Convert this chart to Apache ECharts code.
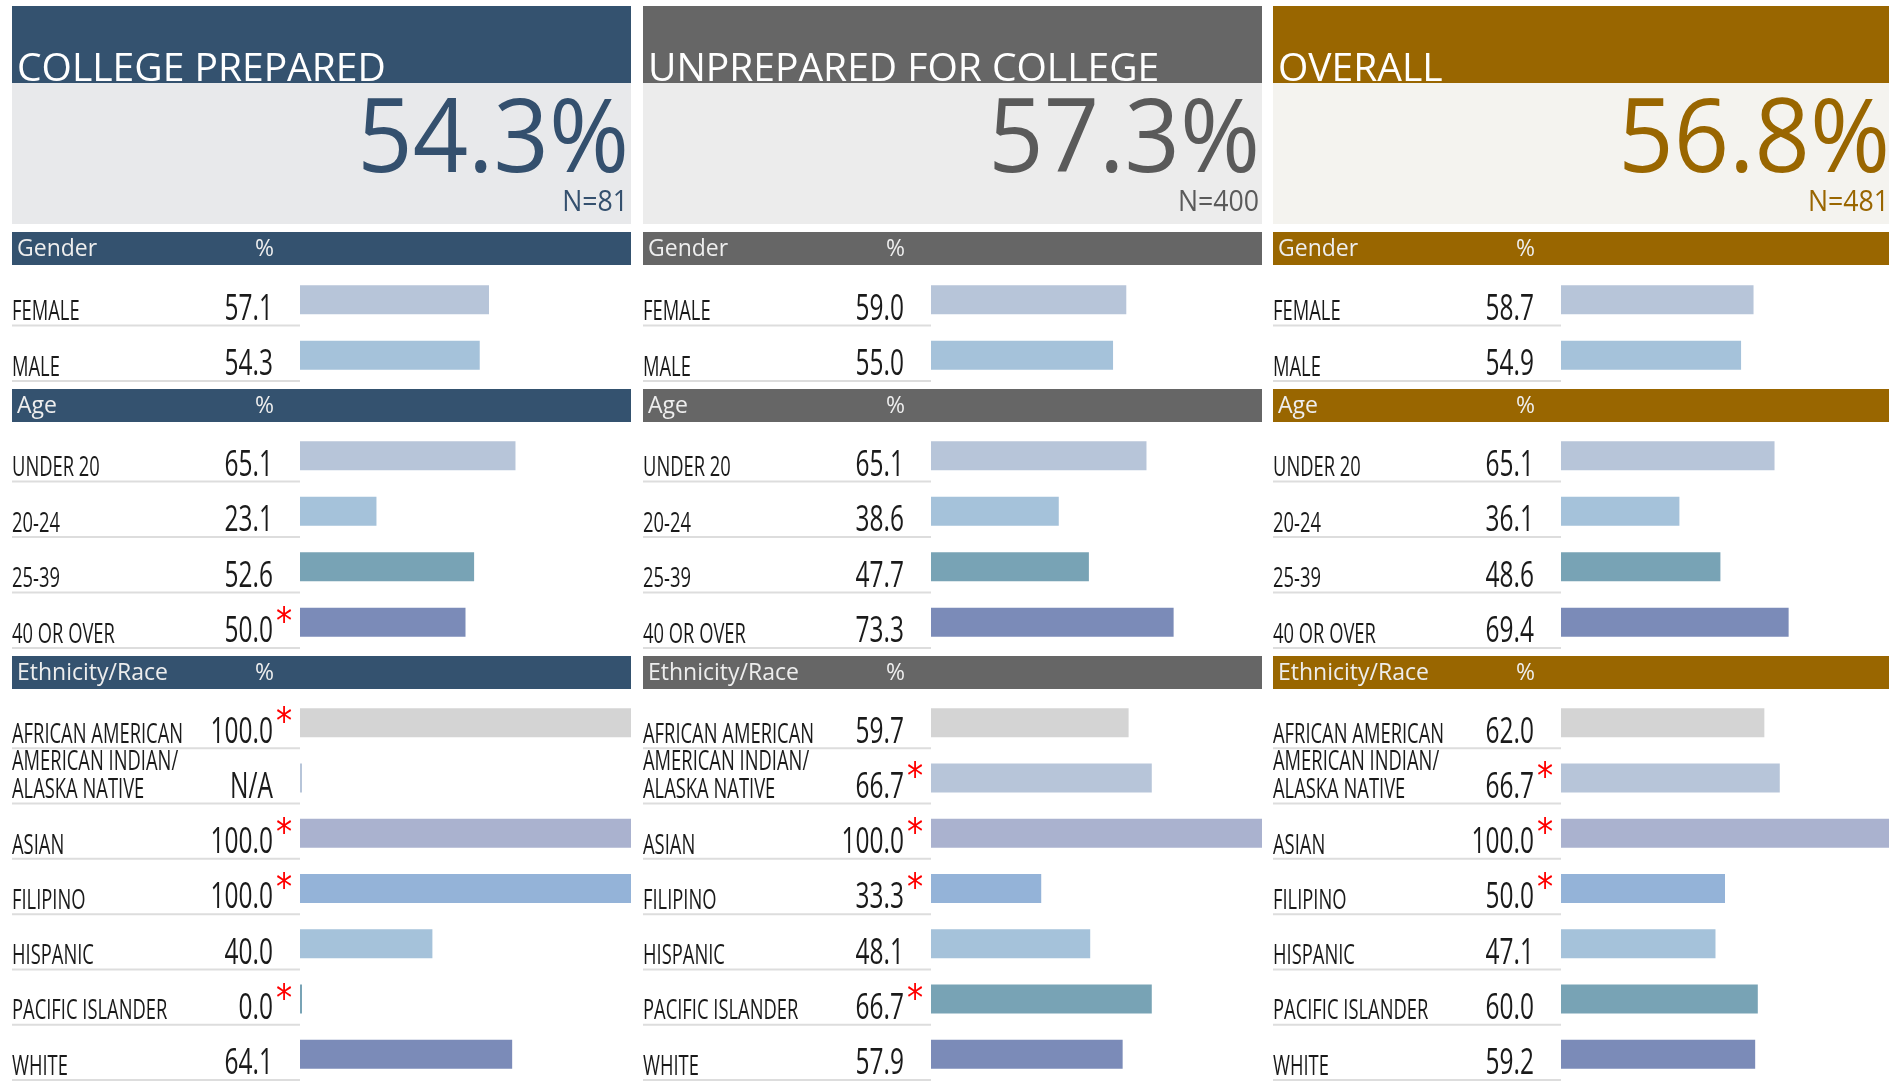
<!DOCTYPE html>
<html>
<head>
<meta charset="utf-8">
<style>
    html, body {margin:0;padding:0;background:#ffffff;}
    #main {width:1889px;height:1082px;}
</style>
<script src="https://cdn.jsdelivr.net/npm/echarts@6/dist/echarts.min.js"></script>
</head>
<body>
<div id="main"></div>
<script>
    // panels
    var panelTitles = ['COLLEGE PREPARED', 'UNPREPARED FOR COLLEGE', 'OVERALL'];
    var panelRates = [54.3, 57.3, 56.8];
    var panelN = [81, 400, 481];

    // row labels
    var sectionNames = ['Gender', 'Age', 'Ethnicity/Race'];
    var genderLabels = ['FEMALE', 'MALE'];
    var ageLabels = ['UNDER 20', '20-24', '25-39', '40 OR OVER'];
    var ethnicityLabels = ['AFRICAN AMERICAN', 'AMERICAN INDIAN/\nALASKA NATIVE', 'ASIAN', 'FILIPINO',
        'HISPANIC', 'PACIFIC ISLANDER', 'WHITE'];

    // values (null = N/A)
    var preparedGender = [57.1, 54.3];
    var preparedAge = [65.1, 23.1, 52.6, 50.0];
    var preparedEthnicity = [100.0, null, 100.0, 100.0, 40.0, 0.0, 64.1];
    var unpreparedGender = [59.0, 55.0];
    var unpreparedAge = [65.1, 38.6, 47.7, 73.3];
    var unpreparedEthnicity = [59.7, 66.7, 100.0, 33.3, 48.1, 66.7, 57.9];
    var overallGender = [58.7, 54.9];
    var overallAge = [65.1, 36.1, 48.6, 69.4];
    var overallEthnicity = [62.0, 66.7, 100.0, 50.0, 47.1, 60.0, 59.2];

    // red asterisk marks (small sample)
    var preparedGenderFlags = [0, 0];
    var preparedAgeFlags = [0, 0, 0, 1];
    var preparedEthnicityFlags = [1, 0, 1, 1, 0, 1, 0];
    var unpreparedGenderFlags = [0, 0];
    var unpreparedAgeFlags = [0, 0, 0, 0];
    var unpreparedEthnicityFlags = [0, 1, 1, 1, 0, 1, 0];
    var overallGenderFlags = [0, 0];
    var overallAgeFlags = [0, 0, 0, 0];
    var overallEthnicityFlags = [0, 1, 1, 1, 0, 0, 0];

    // colours
    var headColors = ['#34526f', '#666666', '#996600'];
    var numberColors = ['#34506e', '#5a5a5a', '#996600'];
    var boxColors = ['#e8e9eb', '#ececec', '#f4f3ef'];
    var genderColors = ['#b7c5d9', '#a5c2da'];
    var ageColors = ['#b7c5d9', '#a5c2da', '#78a3b5', '#7b8bb8'];
    var ethnicityColors = ['#d4d4d4', '#b7c5d9', '#aab2cf', '#94b3d8', '#a5c2da', '#78a3b5', '#7b8bb8'];

    var FONT = '"Open Sans", "Noto Sans", sans-serif';
    var panelX = [12, 643, 1273];
    var panelW = 619;
    var barOffset = 288, barArea = 331, rowH = 55.5;
    var bandTops = [232, 389, 656];
    var gridTops = [272, 428, 695];

    var sectionLabels = [genderLabels, ageLabels, ethnicityLabels];
    var sectionColors = [genderColors, ageColors, ethnicityColors];
    var panelValues = [
        [preparedGender, preparedAge, preparedEthnicity],
        [unpreparedGender, unpreparedAge, unpreparedEthnicity],
        [overallGender, overallAge, overallEthnicity]
    ];
    var panelFlags = [
        [preparedGenderFlags, preparedAgeFlags, preparedEthnicityFlags],
        [unpreparedGenderFlags, unpreparedAgeFlags, unpreparedEthnicityFlags],
        [overallGenderFlags, overallAgeFlags, overallEthnicityFlags]
    ];

    var chart = echarts.init(document.getElementById('main'));

    var grids = [], xAxes = [], yAxes = [], series = [], graphics = [];

    function rowRenderer(labels, values, flags) {
        return function (params, api) {
            var i = params.dataIndex;
            var pt = api.coord([0, i]);
            var band = api.size([0, 1])[1];
            var baseX = pt[0];
            var left = baseX - barOffset;
            var lineY = pt[1] + band / 2 - 2;
            var v = values[i];
            var children = [
                {type: 'line', shape: {x1: left, y1: lineY, x2: baseX, y2: lineY},
                    style: {stroke: '#dddddd', lineWidth: 2}},
                {type: 'text', x: left, y: lineY + 1, scaleX: 0.68,
                    style: {text: labels[i], fontFamily: FONT, fontSize: 27, lineHeight: 28,
                        fill: '#1a1a1a', align: 'left', verticalAlign: 'bottom'}},
                {type: 'text', x: baseX - 27, y: lineY - 16, scaleX: 0.68,
                    style: {text: v == null ? 'N/A' : v.toFixed(1), fontFamily: FONT, fontSize: 36,
                        fill: '#1a1a1a', align: 'right', verticalAlign: 'middle'}}
            ];
            if (flags[i]) {
                children.push({type: 'text', x: baseX - 24, y: lineY - 5, scaleX: 0.85,
                    style: {text: '*', fontFamily: '"DejaVu Sans", sans-serif', fontSize: 38,
                        fill: '#ff0000', align: 'left', verticalAlign: 'bottom'}});
            }
            return {type: 'group', children: children};
        };
    }

    for (var p = 0; p < 3; p++) {
        var x0 = panelX[p];
        // header
        graphics.push({type: 'rect', shape: {x: x0, y: 6, width: panelW, height: 77},
            style: {fill: headColors[p]}, silent: true});
        graphics.push({type: 'text', x: x0 + 5, y: 70,
            style: {text: panelTitles[p], fontFamily: FONT, fontSize: 39, fill: '#ffffff',
                align: 'left', verticalAlign: 'middle'}, silent: true});
        graphics.push({type: 'rect', shape: {x: x0, y: 83, width: panelW, height: 141},
            style: {fill: boxColors[p]}, silent: true});
        graphics.push({type: 'text', x: x0 + 617, y: 143, scaleX: 0.95,
            style: {text: panelRates[p].toFixed(1) + '%', fontFamily: FONT, fontSize: 102,
                fill: numberColors[p], align: 'right', verticalAlign: 'middle'}, silent: true});
        graphics.push({type: 'text', x: x0 + 616, y: 203, scaleX: 0.92,
            style: {text: 'N=' + panelN[p], fontFamily: FONT, fontSize: 29,
                fill: numberColors[p], align: 'right', verticalAlign: 'middle'}, silent: true});

        for (var s = 0; s < 3; s++) {
            var gi = grids.length;
            var labels = sectionLabels[s];
            var values = panelValues[p][s];
            var colors = sectionColors[s];

            // section band
            graphics.push({type: 'rect', shape: {x: x0, y: bandTops[s], width: panelW, height: 33},
                style: {fill: headColors[p]}, silent: true});
            graphics.push({type: 'text', x: x0 + 5, y: bandTops[s] + 17,
                style: {text: sectionNames[s], fontFamily: FONT, fontSize: 23, fill: '#eeeeee',
                    align: 'left', verticalAlign: 'middle'}, silent: true});
            graphics.push({type: 'text', x: x0 + 243, y: bandTops[s] + 17,
                style: {text: '%', fontFamily: FONT, fontSize: 23, fill: '#eeeeee',
                    align: 'left', verticalAlign: 'middle'}, silent: true});

            grids.push({left: x0 + barOffset, top: gridTops[s], width: barArea,
                height: labels.length * rowH});
            xAxes.push({gridIndex: gi, type: 'value', min: 0, max: 100, show: false});
            yAxes.push({gridIndex: gi, type: 'category', data: labels, inverse: true, show: false});

            series.push({
                type: 'bar', xAxisIndex: gi, yAxisIndex: gi, barWidth: 29, barMinHeight: 2,
                silent: true,
                data: values.map(function (v, i) {
                    return {value: v == null ? 0 : v, itemStyle: {color: colors[i]}};
                })
            });
            series.push({
                type: 'custom', xAxisIndex: gi, yAxisIndex: gi, silent: true,
                encode: {x: 0, y: 1},
                data: values.map(function (v, i) { return [0, i]; }),
                renderItem: rowRenderer(labels, values, panelFlags[p][s])
            });
        }
    }

    chart.setOption({
        animation: false,
        backgroundColor: '#ffffff',
        grid: grids,
        xAxis: xAxes,
        yAxis: yAxes,
        graphic: {elements: graphics},
        series: series
    });

    window.onresize = function () {
        chart.resize();
    };
</script>
</body>
</html>
